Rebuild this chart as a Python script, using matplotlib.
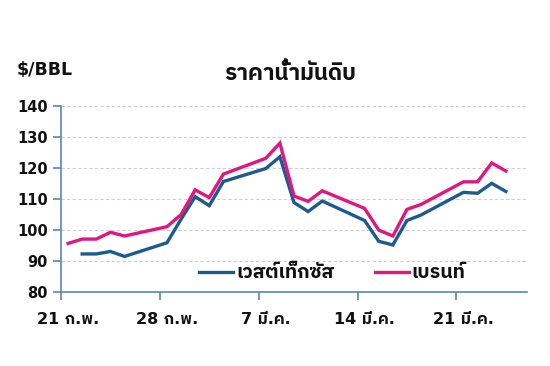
import matplotlib
matplotlib.use("Agg")
import matplotlib.pyplot as plt
from matplotlib.transforms import ScaledTranslation
import numpy as np
import pandas as pd

dates = ["2022-02-21", "2022-02-22", "2022-02-23", "2022-02-24", "2022-02-25",
         "2022-02-28", "2022-03-01", "2022-03-02", "2022-03-03", "2022-03-04",
         "2022-03-07", "2022-03-08", "2022-03-09", "2022-03-10", "2022-03-11",
         "2022-03-14", "2022-03-15", "2022-03-16", "2022-03-17", "2022-03-18",
         "2022-03-21", "2022-03-22", "2022-03-23", "2022-03-24"]
wti = [np.nan, 92.2, 92.2, 93.0, 91.4,
       95.8, 103.4, 110.7, 107.8, 115.6,
       119.8, 123.6, 108.8, 105.9, 109.3,
       103.0, 96.3, 95.1, 103.0, 104.8,
       112.1, 111.8, 115.0, 112.4]
brent = [95.6, 97.0, 97.0, 99.2, 98.0,
         101.0, 104.9, 112.9, 110.4, 118.0,
         123.1, 128.0, 110.9, 109.2, 112.6,
         106.9, 99.9, 98.0, 106.6, 108.2,
         115.5, 115.5, 121.6, 119.0]
tick_dates = ["2022-02-21", "2022-02-28", "2022-03-07", "2022-03-14", "2022-03-21"]
tick_labels = ["21 ก.พ.", "28 ก.พ.", "7 มี.ค.", "14 มี.ค.", "21 มี.ค."]
series_names = ["เวสต์เท็กซัส", "เบรนท์"]
title = "ราคาน้ำมันดิบ"
unit = "$/BBL"

FONTS = ['DejaVu Sans', 'IBM Plex Sans Thai']
plt.rcParams['font.family'] = FONTS
plt.rcParams['font.weight'] = 'bold'

WTI_C = '#1d5a8e'
BRENT_C = '#e0177e'
AX_C = '#5b88b3'
TXT_C = '#111111'

fig = plt.figure(figsize=(5.5, 3.66), dpi=100)
ax = fig.add_axes([61/550, 74.3/366, (527-61)/550, (291.7-106)/366])

x = pd.to_datetime(dates) + pd.Timedelta(hours=12)
ax.plot(x, wti, color=WTI_C, lw=2.4, solid_joinstyle='miter', label=series_names[0])
ax.plot(x, brent, color=BRENT_C, lw=2.4, solid_joinstyle='miter', label=series_names[1])

ax.set_ylim(80, 140)
ax.set_yticks(np.arange(80, 141, 10))
ax.set_xlim(pd.Timestamp("2022-02-21"), pd.Timestamp("2022-03-26"))
ax.set_xticks(pd.to_datetime(tick_dates))
ax.set_xticklabels(tick_labels)

for v in range(90, 141, 10):
    ax.axhline(v, color='#cfcfcf', lw=0.8, ls=(0, (3, 2)), zorder=0)

for s in ['top', 'right']:
    ax.spines[s].set_visible(False)
for s in ['left', 'bottom']:
    ax.spines[s].set_color(AX_C)
    ax.spines[s].set_linewidth(1.2)
ax.tick_params(axis='both', colors=AX_C, direction='out', length=5.5, width=1.2,
               labelcolor=TXT_C)
ax.tick_params(axis='y', pad=4, labelsize=10.5)
ax.tick_params(axis='x', pad=9, labelsize=11.5)
for lab in ax.get_xticklabels() + ax.get_yticklabels():
    lab.set_fontweight('bold')
shift = ScaledTranslation(7/100, 0, fig.dpi_scale_trans)
for lab in ax.get_xticklabels():
    lab.set_transform(lab.get_transform() + shift)

fig.text(17/550, (366-70)/366, unit, fontsize=12.5, fontweight='bold', ha='left', va='center', color=TXT_C)
fig.text(290/550, (366-73)/366, title, fontsize=16, fontweight='bold', ha='center', va='center', color=TXT_C)

leg = ax.legend(loc='center left', bbox_to_anchor=(199/550, (366-273)/366),
                bbox_transform=fig.transFigure, ncol=2, frameon=False,
                borderpad=0, borderaxespad=0, handlelength=1.75, handletextpad=0.15,
                columnspacing=2.1, prop={'size': 14, 'weight': 'bold'})
for t in leg.get_texts():
    t.set_color(TXT_C)

fig.savefig("out.png", dpi=100)
